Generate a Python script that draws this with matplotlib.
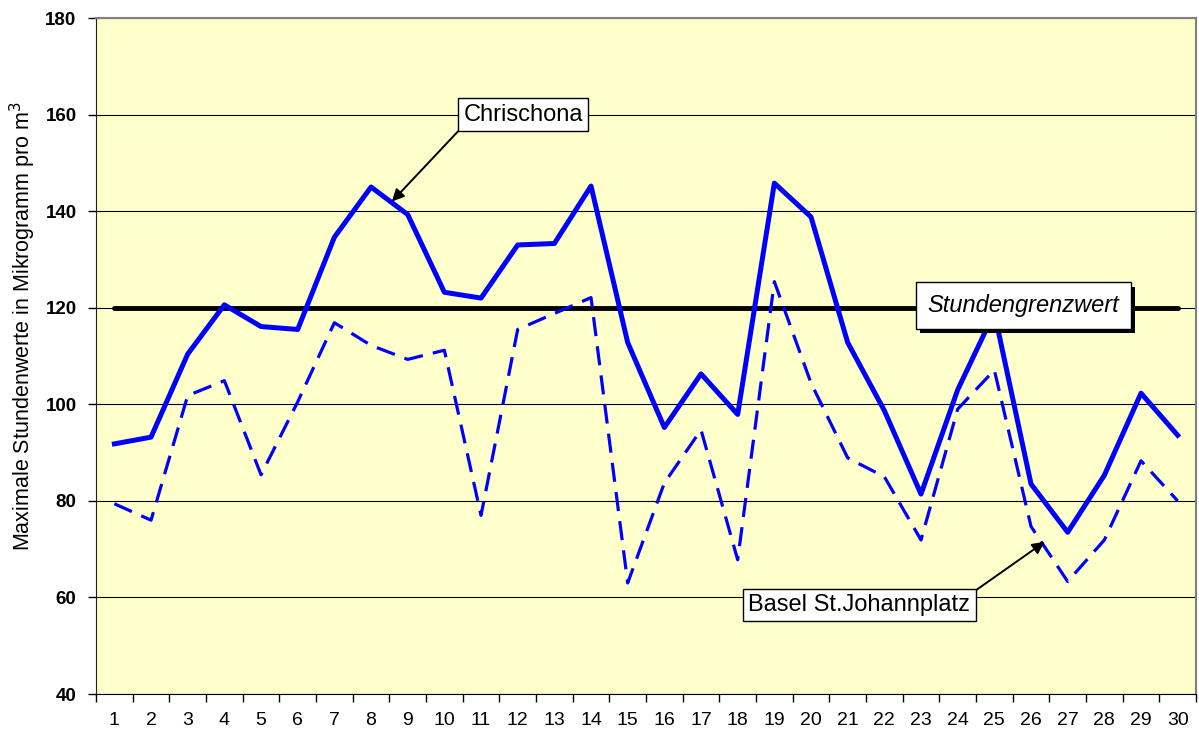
import matplotlib
matplotlib.use('Agg')
import matplotlib.pyplot as plt
import matplotlib.patheffects as pe
import numpy as np

plt.rcParams['font.family'] = ['Liberation Sans', 'DejaVu Sans']

# Daten
tage = list(range(1, 31))
chrischona = [91.8, 93.2, 110.4, 120.6, 116.1, 115.5, 134.6, 145.0, 139.3, 123.2,
              122.0, 133.0, 133.3, 145.2, 112.8, 95.2, 106.3, 97.9, 145.8, 138.8,
              112.8, 98.7, 81.4, 103.0, 119.0, 83.5, 73.5, 85.3, 102.3, 93.6]
basel = [79.4, 76.0, 101.8, 104.9, 85.4, 100.5, 116.9, 112.2, 109.3, 111.2,
         77.0, 115.5, 118.8, 122.1, 63.0, 83.7, 94.7, 67.8, 125.4, 104.4,
         88.9, 85.0, 71.9, 99.0, 107.1, 74.7, 63.3, 71.9, 88.3, 80.0]
grenzwert = [120] * 30

fig = plt.figure(figsize=(11.99, 7.38), dpi=100)
ax = fig.add_axes([0.0801, 0.0596, 0.9174, 0.916])
ax.set_facecolor('#FFFFCC')

ax.set_xlim(0.5, 30.5)
ax.set_ylim(40, 180)
ax.set_yticks(np.arange(40, 181, 20))
ax.yaxis.grid(True, color='black', lw=0.8)
ax.set_axisbelow(True)

# Linien
ax.plot(tage, grenzwert, color='black', lw=3.5, solid_capstyle='round', zorder=3)
ax.plot(tage, basel, color='#0000FF', lw=2.3, dashes=(6, 3.2), zorder=4)
ax.plot(tage, chrischona, color='#0000FF', lw=3.6, zorder=5)

# Achsen
ax.set_xticks(tage)
ax.set_xticklabels([str(t) for t in tage], fontsize=14)
ax.set_xticks(np.arange(0.5, 31, 1), minor=True)
ax.tick_params(axis='x', which='major', length=0, pad=13)
ax.tick_params(axis='x', which='minor', length=6, width=1, direction='out')
ax.tick_params(axis='y', labelsize=13.5, length=6, width=1, pad=8)
for lab in ax.get_yticklabels():
    lab.set_fontweight('bold')

for s in ['top', 'right']:
    ax.spines[s].set_color('#808080')
    ax.spines[s].set_linewidth(1.5)
ax.spines['left'].set_color('#202020')
ax.spines['bottom'].set_color('black')

ax.set_ylabel('Maximale Stundenwerte in Mikrogramm pro m$^3$', fontsize=15.5)
ax.yaxis.set_label_coords(-0.053, 0.545)

# Beschriftungen
box = dict(boxstyle='square,pad=0.22', fc='white', ec='black', lw=1)
ax.annotate('Chrischona', xy=(8.57, 142.0), xytext=(12.15, 160),
            fontsize=17, ha='center', va='center', bbox=box,
            arrowprops=dict(arrowstyle='-|>', color='black', lw=1.4,
                            mutation_scale=18, shrinkA=0, shrinkB=0,
                            relpos=(0, 0)), zorder=6)
ax.annotate('Basel St.Johannplatz', xy=(26.37, 71.5), xytext=(21.32, 58.4),
            fontsize=17, ha='center', va='center', bbox=box,
            arrowprops=dict(arrowstyle='-|>', color='black', lw=1.4,
                            mutation_scale=18, shrinkA=0, shrinkB=0,
                            relpos=(1, 1)), zorder=6)
t = ax.text(25.79, 120.4, 'Stundengrenzwert', fontsize=17, style='italic',
            ha='center', va='center',
            bbox=dict(boxstyle='square,pad=0.5', fc='white', ec='black', lw=1),
            zorder=7)
t.get_bbox_patch().set_path_effects([
    pe.SimplePatchShadow(offset=(3, -3), shadow_rgbFace='black', alpha=1.0),
    pe.Normal()])

fig.savefig('out.png', dpi=100)
